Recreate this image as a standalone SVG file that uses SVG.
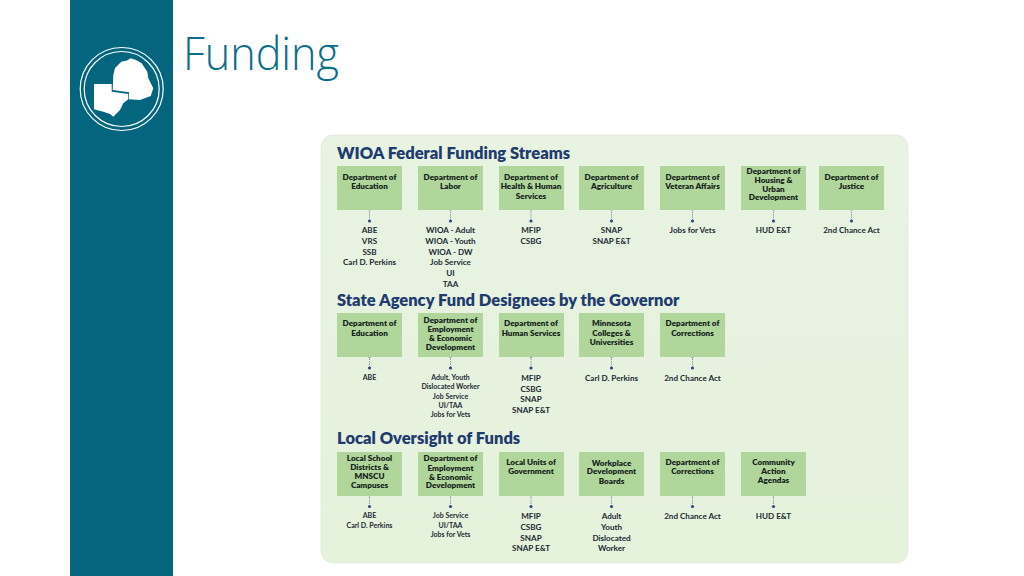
<svg xmlns="http://www.w3.org/2000/svg" width="1024" height="576" viewBox="0 0 1024 576">
<defs>
<linearGradient id="pg" x1="0" y1="0" x2="0" y2="1"><stop offset="0" stop-color="#e8f3e2"/><stop offset="1" stop-color="#e5f2dc"/></linearGradient>
<rect id="sq" x="-1.800" y="-1.200" width="3.600" height="2.400" rx=".5"/>
</defs>
<style>
text{text-anchor:middle}
.h{font:800 16.5px Lato,"Liberation Sans",sans-serif;fill:#1f3b6f;text-anchor:start}
.b{fill:#b1d69b}
.n{font:800 8.1px Lato,"Liberation Sans",sans-serif;fill:#16241c}
.i{font:700 8.1px Lato,"Liberation Sans",sans-serif;fill:#1c2a33}
.s{font-size:7px}
.c{stroke:#8a9aa8;stroke-width:1;stroke-dasharray:1.5 1;fill:none}
.o{fill:#c4d8c8;stroke:#6c8296;stroke-width:.7}
.d{fill:#2c4a86}
</style>
<rect width="1024" height="576" fill="#fff"/>
<g id="sidebar">
<rect x="70" y="0" width="103" height="576" fill="#04657f"/>
<circle cx="121.700" cy="89" r="41.500" fill="none" stroke="#fff" stroke-width="1.200"/>
<circle cx="121.700" cy="89" r="37.500" fill="none" stroke="#fff" stroke-width="1.200"/>
<path fill="#fff" d="M113.300 75L115 68L121.300 61.700L127 60.500L130.700 58.300L136 60L141.700 63.300L147.300 71.700L148.300 78.300L153.300 88.300L150.700 96L140 100L129 99.300V92.300L112.700 90Z"/>
<path fill="#fff" d="M94 84H111.700V91.700L128.300 94V99.300L123.300 103.300L120 110L113.300 116.700L110 114L103.300 111.700L94 109.300Z"/>
</g>
<text id="title" x="183" y="70" textLength="156" lengthAdjust="spacingAndGlyphs" style="font:300 46px 'Open Sans','Liberation Sans',sans-serif;fill:#0b6e8a;text-anchor:start">Funding</text>
<rect id="panel" x="321" y="135" width="587" height="428" rx="12" fill="url(#pg)" stroke="#dbe3d8" stroke-width=".6"/>
<text class="h" x="337" y="159">WIOA Federal Funding Streams</text>
<text class="h" x="337" y="306">State Agency Fund Designees by the Governor</text>
<text class="h" x="337" y="444">Local Oversight of Funds</text>
<g id="connectors">
<path class="c" d="M369.500 209V221M450.500 209V221M531 209V221M611.500 209V221M692.500 209V221M773.500 209V221M851.500 209V221M369.500 356V368M450.500 356V368M531 356V368M611.500 356V368M692.500 356V368M369.500 495V507M450.500 495V507M531 495V507M611.500 495V507M692.500 495V507M773.500 495V507"/>
<g class="o">
<use href="#sq" x="369.500" y="208.500"/><use href="#sq" x="450.500" y="208.500"/><use href="#sq" x="531" y="208.500"/><use href="#sq" x="611.500" y="208.500"/><use href="#sq" x="692.500" y="208.500"/><use href="#sq" x="773.500" y="208.500"/><use href="#sq" x="851.500" y="208.500"/>
<circle cx="369.500" cy="356" r="1.600"/><circle cx="450.500" cy="356" r="1.600"/><circle cx="531" cy="356" r="1.600"/><circle cx="611.500" cy="356" r="1.600"/><circle cx="692.500" cy="356" r="1.600"/>
<use href="#sq" x="369.500" y="494.500"/><use href="#sq" x="450.500" y="494.500"/><use href="#sq" x="531" y="494.500"/><use href="#sq" x="611.500" y="494.500"/><use href="#sq" x="692.500" y="494.500"/><use href="#sq" x="773.500" y="494.500"/>
</g>
<g class="d">
<circle cx="369.500" cy="221" r="1.600"/><circle cx="450.500" cy="221" r="1.600"/><circle cx="531" cy="221" r="1.600"/><circle cx="611.500" cy="221" r="1.600"/><circle cx="692.500" cy="221" r="1.600"/><circle cx="773.500" cy="221" r="1.600"/><circle cx="851.500" cy="221" r="1.600"/>
<circle cx="369.500" cy="368" r="1.600"/><circle cx="450.500" cy="368" r="1.600"/><circle cx="531" cy="368" r="1.600"/><circle cx="611.500" cy="368" r="1.600"/><circle cx="692.500" cy="368" r="1.600"/>
<circle cx="369.500" cy="506.500" r="1.600"/><circle cx="450.500" cy="506.500" r="1.600"/><circle cx="531" cy="506.500" r="1.600"/><circle cx="611.500" cy="506.500" r="1.600"/><circle cx="692.500" cy="506.500" r="1.600"/><circle cx="773.500" cy="506.500" r="1.600"/>
</g>
</g>

<g id="f1"><rect class="b" x="337" y="166" width="65" height="44"/><text class="n" x="369.500" y="180">Department of</text><text class="n" x="369.500" y="189">Education</text></g>
<g id="f1-items"><text class="i" x="369.500" y="233">ABE</text><text class="i" x="369.500" y="244">VRS</text><text class="i" x="369.500" y="255">SSB</text><text class="i" x="369.500" y="265">Carl D. Perkins</text></g>
<g id="f2"><rect class="b" x="418" y="166" width="65" height="44"/><text class="n" x="450.500" y="180">Department of</text><text class="n" x="450.500" y="189">Labor</text></g>
<g id="f2-items"><text class="i" x="450.500" y="233">WIOA - Adult</text><text class="i" x="450.500" y="244">WIOA - Youth</text><text class="i" x="450.500" y="255">WIOA - DW</text><text class="i" x="450.500" y="265">Job Service</text><text class="i" x="450.500" y="276">UI</text><text class="i" x="450.500" y="287">TAA</text></g>
<g id="f3"><rect class="b" x="499" y="166" width="65" height="44"/><text class="n" x="531" y="180">Department of</text><text class="n" x="531" y="189">Health &amp; Human</text><text class="n" x="531" y="199">Services</text></g>
<g id="f3-items"><text class="i" x="531" y="233">MFIP</text><text class="i" x="531" y="244">CSBG</text></g>
<g id="f4"><rect class="b" x="579" y="166" width="65" height="44"/><text class="n" x="611.500" y="180">Department of</text><text class="n" x="611.500" y="189">Agriculture</text></g>
<g id="f4-items"><text class="i" x="611.500" y="233">SNAP</text><text class="i" x="611.500" y="244">SNAP E&amp;T</text></g>
<g id="f5"><rect class="b" x="660" y="166" width="65" height="44"/><text class="n" x="692.500" y="180">Department of</text><text class="n" x="692.500" y="189">Veteran Affairs</text></g>
<g id="f5-items"><text class="i" x="692.500" y="233">Jobs for Vets</text></g>
<g id="f6"><rect class="b" x="741" y="166" width="65" height="44"/><text class="n" x="773.500" y="174">Department of</text><text class="n" x="773.500" y="183">Housing &amp;</text><text class="n" x="773.500" y="192">Urban</text><text class="n" x="773.500" y="200">Development</text></g>
<g id="f6-items"><text class="i" x="773.500" y="233">HUD E&amp;T</text></g>
<g id="f7"><rect class="b" x="819" y="166" width="65" height="44"/><text class="n" x="851.500" y="180">Department of</text><text class="n" x="851.500" y="189">Justice</text></g>
<g id="f7-items"><text class="i" x="851.500" y="233">2nd Chance Act</text></g>

<g id="s1"><rect class="b" x="337" y="313" width="65" height="44"/><text class="n" x="369.500" y="326">Department of</text><text class="n" x="369.500" y="336">Education</text></g>
<g id="s1-items"><text class="i s" x="369.500" y="380">ABE</text></g>
<g id="s2"><rect class="b" x="418" y="313" width="65" height="44"/><text class="n" x="450.500" y="323">Department of</text><text class="n" x="450.500" y="332">Employment</text><text class="n" x="450.500" y="341">&amp; Economic</text><text class="n" x="450.500" y="350">Development</text></g>
<g id="s2-items"><text class="i s" x="450.500" y="380">Adult, Youth</text><text class="i s" x="450.500" y="389">Dislocated Worker</text><text class="i s" x="450.500" y="399">Job Service</text><text class="i s" x="450.500" y="408">UI/TAA</text><text class="i s" x="450.500" y="417">Jobs for Vets</text></g>
<g id="s3"><rect class="b" x="499" y="313" width="65" height="44"/><text class="n" x="531" y="326">Department of</text><text class="n" x="531" y="336">Human Services</text></g>
<g id="s3-items"><text class="i" x="531" y="381">MFIP</text><text class="i" x="531" y="392">CSBG</text><text class="i" x="531" y="402">SNAP</text><text class="i" x="531" y="413">SNAP E&amp;T</text></g>
<g id="s4"><rect class="b" x="579" y="313" width="65" height="44"/><text class="n" x="611.500" y="326">Minnesota</text><text class="n" x="611.500" y="336">Colleges &amp;</text><text class="n" x="611.500" y="345">Universities</text></g>
<g id="s4-items"><text class="i" x="611.500" y="381">Carl D. Perkins</text></g>
<g id="s5"><rect class="b" x="660" y="313" width="65" height="44"/><text class="n" x="692.500" y="326">Department of</text><text class="n" x="692.500" y="336">Corrections</text></g>
<g id="s5-items"><text class="i" x="692.500" y="381">2nd Chance Act</text></g>

<g id="l1"><rect class="b" x="337" y="452" width="65" height="44"/><text class="n" x="369.500" y="461">Local School</text><text class="n" x="369.500" y="470">Districts &amp;</text><text class="n" x="369.500" y="479">MNSCU</text><text class="n" x="369.500" y="488">Campuses</text></g>
<g id="l1-items"><text class="i s" x="369.500" y="518">ABE</text><text class="i s" x="369.500" y="528">Carl D. Perkins</text></g>
<g id="l2"><rect class="b" x="418" y="452" width="65" height="44"/><text class="n" x="450.500" y="461">Department of</text><text class="n" x="450.500" y="471">Employment</text><text class="n" x="450.500" y="480">&amp; Economic</text><text class="n" x="450.500" y="488">Development</text></g>
<g id="l2-items"><text class="i s" x="450.500" y="518">Job Service</text><text class="i s" x="450.500" y="528">UI/TAA</text><text class="i s" x="450.500" y="537">Jobs for Vets</text></g>
<g id="l3"><rect class="b" x="499" y="452" width="65" height="44"/><text class="n" x="531" y="465">Local Units of</text><text class="n" x="531" y="474">Government</text></g>
<g id="l3-items"><text class="i" x="531" y="519">MFIP</text><text class="i" x="531" y="530">CSBG</text><text class="i" x="531" y="541">SNAP</text><text class="i" x="531" y="551">SNAP E&amp;T</text></g>
<g id="l4"><rect class="b" x="579" y="452" width="65" height="44"/><text class="n" x="611.500" y="466">Workplace</text><text class="n" x="611.500" y="474">Development</text><text class="n" x="611.500" y="484">Boards</text></g>
<g id="l4-items"><text class="i" x="611.500" y="519">Adult</text><text class="i" x="611.500" y="530">Youth</text><text class="i" x="611.500" y="541">Dislocated</text><text class="i" x="611.500" y="551">Worker</text></g>
<g id="l5"><rect class="b" x="660" y="452" width="65" height="44"/><text class="n" x="692.500" y="465">Department of</text><text class="n" x="692.500" y="474">Corrections</text></g>
<g id="l5-items"><text class="i" x="692.500" y="519">2nd Chance Act</text></g>
<g id="l6"><rect class="b" x="741" y="452" width="65" height="44"/><text class="n" x="773.500" y="465">Community</text><text class="n" x="773.500" y="474">Action</text><text class="n" x="773.500" y="483">Agendas</text></g>
<g id="l6-items"><text class="i" x="773.500" y="519">HUD E&amp;T</text></g>
</svg>
